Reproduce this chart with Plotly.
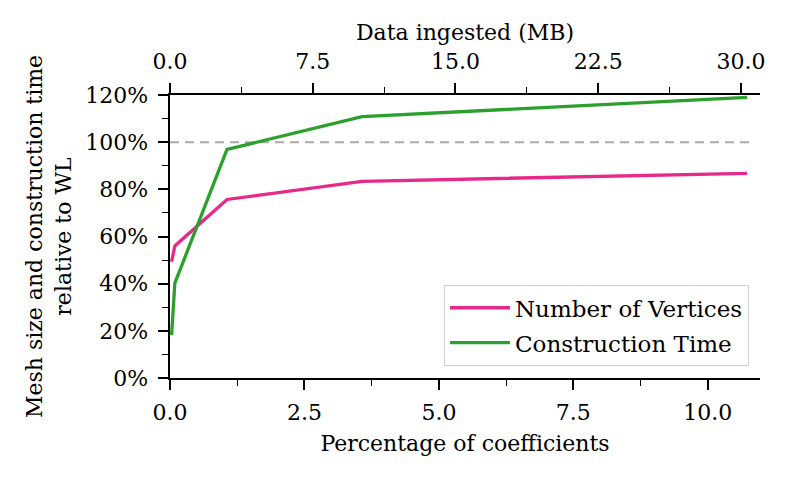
import plotly.graph_objects as go

# Data
pct_coefficients = [0.03, 0.09, 1.06, 3.57, 10.73]
num_vertices = [49.3, 56.0, 75.7, 83.4, 86.8]
construction_time = [18.2, 40.2, 96.9, 110.8, 119.0]
baseline = 100
x_range = [0, 10.97]
mb_range = [0, 31.0]
y_ticks = [0, 20, 40, 60, 80, 100, 120]
y_tick_labels = [f"{v}%" for v in y_ticks]
x_ticks = [0, 2.5, 5.0, 7.5, 10.0]
mb_ticks = [0, 7.5, 15.0, 22.5, 30.0]

FONT = "DejaVu Serif"
FS = 22

fig = go.Figure()
fig.add_trace(go.Scatter(x=pct_coefficients, y=num_vertices, mode="lines",
                         name="Number of Vertices", legendgroup="a",
                         line=dict(color="#e7298a", width=3.3)))
fig.add_trace(go.Scatter(x=pct_coefficients, y=construction_time, mode="lines",
                         name="Construction Time", legendgroup="b",
                         line=dict(color="#2ca02c", width=3.3)))

fig.add_shape(type="line", xref="paper", yref="y", x0=0, x1=0.99,
              y0=baseline, y1=baseline,
              line=dict(color="#aaaaaa", width=2, dash="9px,6px"), layer="below")

axis_common = dict(showline=True, linecolor="black", linewidth=1.8,
                   ticks="outside", ticklen=10.5, tickwidth=1.6, tickcolor="black",
                   showgrid=False, zeroline=False, automargin=False,
                   tickfont=dict(family=FONT, size=FS, color="black"))

fig.update_layout(
    template="none",
    width=788, height=477,
    margin=dict(l=162, r=36, t=87, b=107),
    plot_bgcolor="white", paper_bgcolor="white",
    font=dict(family=FONT, size=FS, color="black"),
    xaxis=dict(range=x_range, tickvals=x_ticks,
               ticktext=[f"{v:.1f}" for v in x_ticks], ticklabelstandoff=3,
               title=dict(text="Percentage of coefficients",
                          font=dict(family=FONT, size=FS), standoff=12),
               minor=dict(dtick=1.25, ticklen=6, tickwidth=1.4, tickcolor="black", ticks="outside"),
               **axis_common),
    xaxis2=dict(range=mb_range, overlaying="x", side="top", anchor="y",
                tickvals=mb_ticks, ticktext=[f"{v:.1f}" for v in mb_ticks],
                ticklabelstandoff=5,
                title=dict(text="Data ingested (MB)",
                           font=dict(family=FONT, size=FS), standoff=2),
                minor=dict(dtick=3.75, ticklen=6, tickwidth=1.4, tickcolor="black", ticks="outside"),
                **axis_common),
    yaxis=dict(range=[0, 120], tickvals=y_ticks, ticktext=y_tick_labels,
               ticklabelstandoff=5,
               title=dict(text="Mesh size and construction time<br>relative to WL",
                          font=dict(family=FONT, size=FS), standoff=8),
               minor=dict(dtick=10, ticklen=6, tickwidth=1.4, tickcolor="black", ticks="outside"),
               **axis_common),
    legend=dict(x=0.981, y=0.042, xanchor="right", yanchor="bottom",
                bgcolor="rgba(255,255,255,0.8)", bordercolor="#d0d0d0", borderwidth=1.2,
                font=dict(family=FONT, size=23), tracegroupgap=2, itemwidth=60),
    showlegend=True,
)

# Invisible trace to bind the top axis
fig.add_trace(go.Scatter(x=mb_range, y=[None, None], xaxis="x2", yaxis="y",
                         mode="lines", showlegend=False, hoverinfo="skip"))

fig.write_html("out.html")
